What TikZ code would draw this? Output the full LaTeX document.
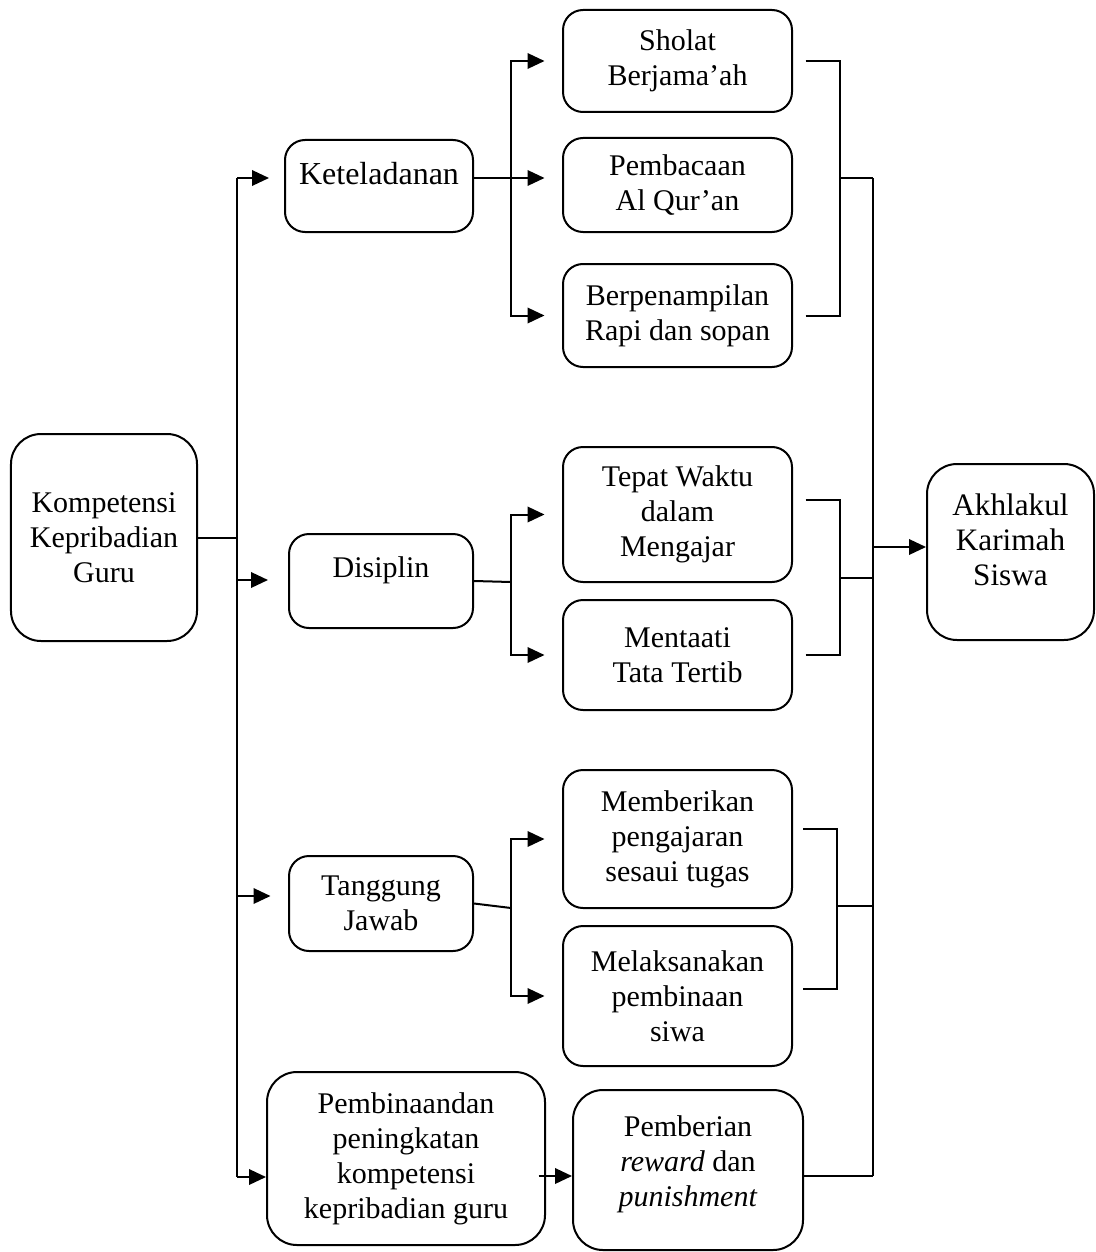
\documentclass[tikz,border=0pt]{standalone}
\usepackage{fontspec}
\setmainfont{Liberation Serif}
\usetikzlibrary{arrows.meta}

\tikzset{
  box/.style={draw, line width=0.8pt, rounded corners=8pt, align=center, inner sep=0pt,
    font=\fontsize{12}{14}\selectfont},
  bigbox/.style={box, rounded corners=12pt},
  link/.style={line width=0.8pt},
  arr/.style={line width=0.8pt, -{Triangle[length=6.8pt,width=6.2pt]}},
}

\begin{document}
\begin{tikzpicture}[x=0.4pt, y=-0.4pt]
\useasboundingbox (0,0) rectangle (1095,1252);

% left side
\node[bigbox, minimum width=74.4pt, minimum height=82.8pt] (komp) at (104,537.5) {Kompetensi\\Kepribadian\\Guru};
\node[box, minimum width=75.2pt, minimum height=36.8pt, font=\fontsize{12.8}{14}\selectfont] (ket) at (379,186) {Keteladanan\\[-4pt]\mbox{}};
\node[box, minimum width=73.6pt, minimum height=37.6pt] (dis) at (381,581) {Disiplin\\[-3pt]\mbox{}};
\node[box, minimum width=73.6pt, minimum height=38pt] (tj) at (381,903.5) {Tanggung\\Jawab};
\node[bigbox, minimum width=111.2pt, minimum height=69.2pt] (pemb) at (406,1158.5) {Pembinaandan\\peningkatan\\kompetensi\\kepribadian guru};

% middle column
\node[box, minimum width=91.6pt, minimum height=40.8pt] (sholat) at (677.5,61) {Sholat\\Berjama’ah};
\node[box, minimum width=91.6pt, minimum height=37.6pt] (baca) at (677.5,185) {Pembacaan\\Al Qur’an};
\node[box, minimum width=91.6pt, minimum height=41.2pt] (rapi) at (677.5,315.5) {Berpenampilan\\Rapi dan sopan};
\node[box, minimum width=91.6pt, minimum height=54pt] (tepat) at (677.5,514.5) {Tepat Waktu\\dalam\\Mengajar};
\node[box, minimum width=91.6pt, minimum height=44pt] (taat) at (677.5,655) {Mentaati\\Tata Tertib};
\node[box, minimum width=91.6pt, minimum height=55.2pt] (beri) at (677.5,839) {Memberikan\\pengajaran\\sesaui tugas};
\node[box, minimum width=91.6pt, minimum height=56pt] (laks) at (677.5,996) {Melaksanakan\\pembinaan\\siwa};
\node[bigbox, minimum width=92pt, minimum height=64pt] (reward) at (688,1170) {Pemberian\\\textit{reward} dan\\\textit{punishment}\\[-7pt]\mbox{}};

% right side
\node[bigbox, minimum width=66.8pt, minimum height=70.4pt, font=\fontsize{12.5}{14}\selectfont] (akhlak) at (1010.5,552) {Akhlakul\\Karimah\\Siswa\\[-4pt]\mbox{}};

% trunk from komp
\coordinate (tt) at (237,178);
\coordinate (tb) at (237,1177);
\coordinate (t2) at (237,580);
\coordinate (t3) at (237,896);
\draw[link] (tt) -- (tb);
\draw[link] (komp.east) -- (komp.east -| tt);
\draw[arr, shorten >=6pt] (tt) -- (tt -| ket.west);
\draw[arr, shorten >=8pt] (t2) -- (t2 -| dis.west);
\draw[arr, shorten >=7pt] (t3) -- (t3 -| tj.west);
\draw[arr] (tb) -- (tb -| pemb.west);

% keteladanan
\coordinate (ks) at (511,178);
\draw[link] (ket.east |- ks) -- (ks);
\draw[arr, shorten >=7pt] (ks) |- (sholat.west);
\draw[arr, shorten >=7pt] (ks) -- (ks -| baca.west);
\draw[arr, shorten >=7pt] (ks) |- (rapi.west);

% disiplin
\coordinate (ds) at (511,582);
\draw[link] (dis.east) -- (ds);
\draw[arr, shorten >=7pt] (ds) |- (tepat.west);
\draw[arr, shorten >=7pt] (ds) |- (taat.west);

% tanggung jawab
\coordinate (ts) at (511,908);
\draw[link] (tj.east) -- (ts);
\draw[arr, shorten >=7pt] (ts) |- (beri.west);
\draw[arr, shorten >=7pt] (ts) |- (laks.west);

% brackets
\coordinate (rt) at (873,178);
\coordinate (rb) at (873,1176);
\coordinate (ra) at (873,547);
\coordinate (kb) at (840,178);
\coordinate (db) at (840,578);
\coordinate (jb) at (837,906);
\draw[link] (rt) -- (rb);
\draw[link, shorten <=5pt] (sholat.east) -| (kb);
\draw[link, shorten <=5pt] (rapi.east) -| (kb);
\draw[link] (kb) -- (rt);
\draw[link, shorten <=5pt] ([yshift=6pt]tepat.east) -| (db);
\draw[link, shorten <=5pt] (taat.east) -| (db);
\draw[link] (db) -- (db -| rt);
\draw[link, shorten <=4pt] ([yshift=4pt]beri.east) -| (jb);
\draw[link, shorten <=4pt] ([yshift=3pt]laks.east) -| (jb);
\draw[link] (jb) -- (jb -| rt);

% bottom row
\draw[arr] ([xshift=-3pt]pemb.east |- rb) -- (reward.west |- rb);
\draw[link] (reward.east |- rb) -- (rb);
\draw[arr] (ra) -- (ra -| akhlak.west);
\end{tikzpicture}
\end{document}
